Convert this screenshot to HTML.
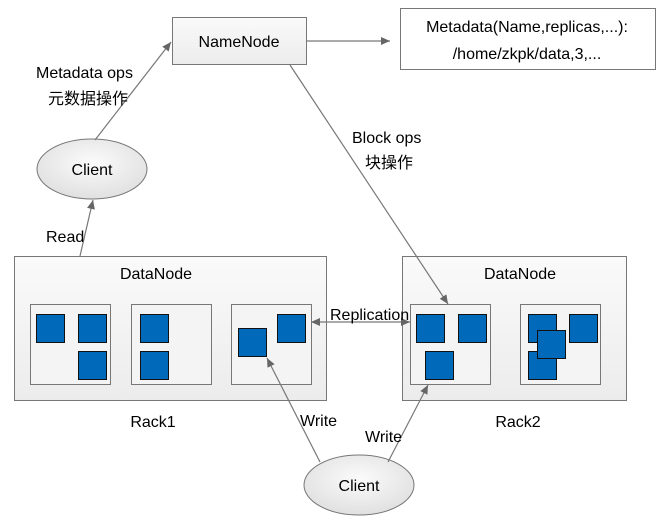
<!DOCTYPE html>
<html><head><style>body{margin:0;background:#fff}text{font-family:"Liberation Sans","Noto Sans CJK SC",sans-serif;font-size:16px;fill:#000}</style></head><body>
<svg width="665" height="522" xmlns="http://www.w3.org/2000/svg">
<defs>
<marker id="a" markerWidth="10" markerHeight="10" refX="9" refY="5" orient="auto" markerUnits="userSpaceOnUse"><path d="M0,1 L9,5 L0,9 z" fill="#666"/></marker>
<marker id="b" markerWidth="10" markerHeight="10" refX="1" refY="5" orient="auto" markerUnits="userSpaceOnUse"><path d="M9,1 L0,5 L9,9 z" fill="#666"/></marker>
<linearGradient id="g" x1="0" y1="0" x2="0" y2="1"><stop offset="0" stop-color="#fafafa"/><stop offset="1" stop-color="#ececec"/></linearGradient>
<radialGradient id="e" cx="0.5" cy="0.4" r="0.6"><stop offset="0" stop-color="#fbfbfb"/><stop offset="1" stop-color="#e0e0e0"/></radialGradient>
</defs>
<g stroke="#777" fill="url(#g)">
<rect x="172.5" y="17.5" width="134" height="47"/>
<rect x="400.5" y="8.5" width="255" height="61" fill="#fff"/>
<rect x="14.5" y="256.5" width="312" height="144"/>
<rect x="402.5" y="256.5" width="224" height="144"/>
<rect x="30.5" y="304.5" width="80" height="80" fill="#f4f4f4"/>
<rect x="131.5" y="304.5" width="80" height="80" fill="#f4f4f4"/>
<rect x="231.5" y="304.5" width="80" height="80" fill="#f4f4f4"/>
<rect x="410.5" y="304.5" width="80" height="80" fill="#f4f4f4"/>
<rect x="520.5" y="304.5" width="80" height="80" fill="#f4f4f4"/>
<ellipse cx="92" cy="169" rx="55" ry="30" fill="url(#e)"/>
<ellipse cx="359" cy="485" rx="55" ry="30" fill="url(#e)"/>
</g>
<g fill="#0069BA" stroke="#111">
<rect x="36.5" y="314.5" width="28" height="28"/><rect x="78.5" y="314.5" width="28" height="28"/><rect x="78.5" y="351.5" width="28" height="28"/>
<rect x="140.5" y="314.5" width="28" height="28"/><rect x="140.5" y="351.5" width="28" height="28"/>
<rect x="238.5" y="328.5" width="28" height="28"/><rect x="277.5" y="314.5" width="28" height="28"/>
<rect x="416.5" y="314.5" width="28" height="28"/><rect x="458.5" y="314.5" width="28" height="28"/><rect x="425.5" y="351.5" width="28" height="28"/>
<rect x="528.5" y="314.5" width="28" height="28"/><rect x="569.5" y="314.5" width="28" height="28"/><rect x="528.5" y="351.5" width="28" height="28"/><rect x="537.5" y="330.5" width="28" height="28"/>
</g>
<g stroke="#777" stroke-width="1.2" fill="none">
<line x1="95" y1="140" x2="171" y2="42" marker-end="url(#a)"/>
<line x1="80" y1="256" x2="93" y2="200" marker-end="url(#a)"/>
<line x1="307" y1="41" x2="390" y2="41" marker-end="url(#a)"/>
<line x1="290" y1="65" x2="448" y2="304" marker-end="url(#a)"/>
<line x1="312" y1="322" x2="410" y2="322" marker-start="url(#b)" marker-end="url(#a)"/>
<line x1="320" y1="462" x2="267" y2="358" marker-end="url(#a)"/>
<line x1="388" y1="462" x2="428" y2="385" marker-end="url(#a)"/>
</g>
<text x="239" y="47" text-anchor="middle" font-size="18">NameNode</text>
<text x="527" y="32" text-anchor="middle" font-size="17.5">Metadata(Name,replicas,...):</text>
<text x="527" y="59" text-anchor="middle" font-size="17.5">/home/zkpk/data,3,...</text>
<text x="36" y="78">Metadata ops</text>
<text x="48" y="104" font-size="15">元数据操作</text>
<text x="92" y="175" text-anchor="middle">Client</text>
<text x="352" y="143">Block ops</text>
<text x="365" y="168" font-size="14">块操作</text>
<text x="46" y="242">Read</text>
<text x="156" y="279" text-anchor="middle">DataNode</text>
<text x="520" y="279" text-anchor="middle">DataNode</text>
<text x="330" y="320" font-size="13">Replication</text>
<text x="153" y="427" text-anchor="middle">Rack1</text>
<text x="518" y="427" text-anchor="middle">Rack2</text>
<text x="300" y="426" font-size="14">Write</text>
<text x="365" y="442" font-size="14">Write</text>
<text x="359" y="491" text-anchor="middle">Client</text>
</svg>
</body></html>
